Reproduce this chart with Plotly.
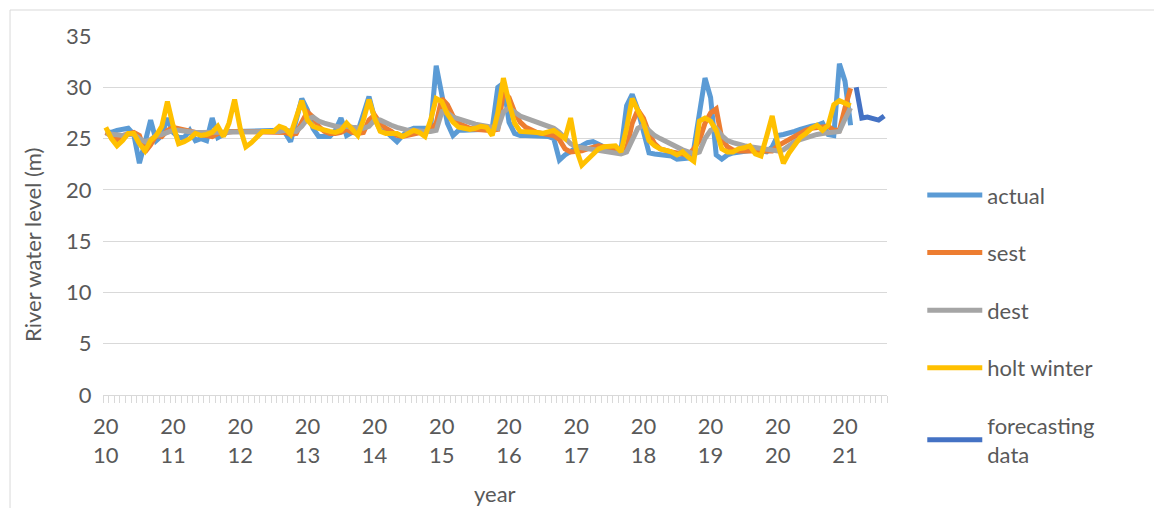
import plotly.graph_objects as go

# ---- data (monthly, Jan 2010 .. Aug 2021) ----
years = ["2010", "2011", "2012", "2013", "2014", "2015", "2016", "2017", "2018", "2019", "2020", "2021"]
n_months = 140

actual = [25.7, 25.6, 25.8, 25.9, 26.0, 25.4, 22.6, 24.6, 26.8, 24.8,
          25.3, 27.0, 25.6, 25.1, 25.1, 25.8, 24.8, 25.0, 24.8, 27.0,
          25.1, 25.4, 25.7, 25.7, 25.7, 25.7, 25.8, 25.8, 25.8, 25.8,
          25.8, 25.8, 25.6, 24.7, 26.8, 28.9, 27.8, 26.0, 25.2, 25.2,
          25.2, 25.8, 27.0, 25.3, 25.6, 25.7, 27.5, 29.1, 27.0, 25.8,
          25.7, 25.2, 24.7, 25.3, 25.8, 26.0, 26.0, 26.0, 26.0, 32.1,
          29.5, 26.5, 25.3, 25.8, 25.8, 25.8, 25.8, 25.8, 25.9, 26.0,
          30.0, 30.4, 26.6, 25.5, 25.3, 25.3, 25.3, 25.3, 25.3, 25.2,
          25.0, 22.9, 23.4, 23.8, 24.1, 24.3, 24.6, 24.7, 24.4, 24.1,
          23.9, 23.8, 23.9, 28.2, 29.3, 27.8, 25.5, 23.6, 23.5, 23.4,
          23.4, 23.3, 23.0, 23.0, 23.1, 24.0, 27.3, 30.9, 29.0, 23.4,
          23.0, 23.4, 23.6, 23.7, 23.7, 23.8, 23.9, 23.8, 23.7, 24.2,
          25.3, 25.4, 25.5, 25.7, 25.9, 26.1, 26.2, 26.3, 26.5, 25.4,
          25.3, 32.3, 30.6, 26.3]

sest = [25.6, 25.2, 24.9, 25.3, 25.5, 25.6, 25.3, 23.7, 24.4, 25.3,
        25.2, 25.8, 26.1, 26.0, 25.8, 25.7, 25.6, 25.4, 25.3, 25.2,
        25.5, 25.6, 25.7, 25.7, 25.7, 25.7, 25.7, 25.7, 25.7, 25.7,
        25.7, 25.7, 25.6, 25.4, 25.5, 26.6, 27.6, 27.1, 26.2, 25.7,
        25.5, 25.5, 25.6, 25.9, 25.6, 25.5, 25.6, 26.8, 27.3, 26.5,
        26.0, 25.7, 25.3, 25.2, 25.3, 25.5, 25.6, 25.7, 25.8, 26.5,
        28.9, 28.3, 27.2, 26.5, 26.2, 26.0, 25.9, 25.8, 25.8, 25.8,
        25.9, 29.5, 29.0, 27.6, 26.6, 26.1, 25.8, 25.6, 25.5, 25.4,
        25.3, 24.9, 24.0, 23.7, 23.7, 23.8, 24.0, 24.2, 24.3, 24.2,
        24.1, 24.0, 23.9, 24.0, 26.5, 27.8, 27.0, 25.5, 24.5, 24.0,
        23.8, 23.7, 23.6, 23.5, 23.4, 24.0, 24.8, 26.5, 27.5, 27.9,
        25.0, 24.2, 23.9, 23.8, 23.8, 23.8, 23.8, 23.8, 23.7, 23.8,
        24.3, 24.6, 25.0, 25.3, 25.5, 25.8, 26.0, 26.1, 26.2, 26.2,
        25.8, 25.8, 28.0, 29.9]

dest = [25.5, 25.4, 25.3, 25.3, 25.4, 25.4, 25.0, 24.7, 24.9, 25.3,
        25.4, 25.6, 25.8, 25.8, 25.7, 25.7, 25.6, 25.6, 25.6, 25.6,
        25.7, 25.7, 25.7, 25.7, 25.7, 25.7, 25.7, 25.7, 25.7, 25.7,
        25.7, 25.7, 25.8, 25.8, 25.7, 26.2, 26.9, 27.1, 26.7, 26.5,
        26.3, 26.2, 26.1, 26.2, 26.1, 26.0, 26.0, 26.2, 26.8, 26.8,
        26.5, 26.3, 26.1, 25.9, 25.8, 25.8, 25.7, 25.7, 25.7, 25.8,
        27.6, 27.5, 27.1, 26.9, 26.7, 26.6, 26.4, 26.3, 26.2, 26.1,
        26.0, 27.6, 28.0, 27.6, 27.2, 27.0, 26.8, 26.6, 26.4, 26.2,
        26.0, 25.6, 25.0, 24.5, 24.2, 24.1, 24.0, 23.9, 23.8, 23.7,
        23.6, 23.5, 23.5, 23.7, 25.0, 26.0, 26.3, 25.8, 25.3, 25.0,
        24.7, 24.5, 24.2, 23.9, 23.7, 23.5, 23.7, 25.0, 25.8, 26.0,
        25.3, 24.8, 24.6, 24.4, 24.3, 24.2, 24.1, 24.0, 23.9, 23.8,
        23.8, 23.9, 24.3, 24.7, 24.9, 25.1, 25.3, 25.4, 25.5, 25.6,
        25.6, 25.7, 26.9, 28.0]

holt_winter = [26.1, 25.0, 24.3, 24.8, 25.5, 25.5, 24.5, 23.8, 24.8, 25.3,
               26.2, 28.6, 26.3, 24.5, 24.7, 25.0, 25.5, 25.3, 25.4, 25.6,
               26.2, 25.2, 26.5, 28.8, 26.0, 24.2, 24.6, 25.2, 25.7, 25.7,
               25.7, 26.2, 26.0, 25.4, 27.0, 28.7, 26.8, 26.2, 26.0, 25.8,
               25.7, 25.6, 25.8, 26.5, 25.9, 25.3, 26.8, 28.8, 27.0, 25.7,
               25.5, 25.5, 25.5, 25.2, 25.5, 25.8, 25.6, 25.2, 26.8, 28.9,
               28.6, 27.4, 26.6, 26.1, 26.0, 25.9, 26.0, 26.2, 26.1, 25.3,
               27.5, 30.9, 28.5, 26.5, 25.7, 25.7, 25.7, 25.6, 25.5, 25.6,
               25.8, 25.4, 25.0, 27.0, 24.0, 22.4, 22.9, 23.5, 24.0, 24.2,
               24.3, 24.3, 23.7, 26.0, 28.9, 27.8, 26.6, 24.8, 24.3, 24.0,
               23.9, 23.7, 23.4, 23.7, 23.2, 22.8, 26.7, 27.0, 26.7, 25.8,
               24.0, 23.7, 23.7, 24.0, 24.1, 24.3, 23.5, 23.3, 25.2, 27.2,
               24.5, 22.6, 23.6, 24.4, 25.1, 25.5, 26.0, 26.3, 25.8, 26.3,
               28.3, 28.7, 28.5, 28.2]

forecast_start = 134
forecasting_data = [30.0, 27.0, 27.1, 27.0, 26.8, 27.2]

# ---- figure ----
TXT = "#595959"
GRID = "#d9d9d9"
FONT = "Lato, Carlito, 'Liberation Sans', sans-serif"

fig = go.Figure()
series = [
    ("actual", actual, 0, "#5B9BD5"),
    ("sest", sest, 0, "#ED7D31"),
    ("dest", dest, 0, "#A5A5A5"),
    ("holt winter", holt_winter, 0, "#FFC000"),
    ("forecasting<br>data", forecasting_data, forecast_start, "#4472C4"),
]
for name, vals, start, color in series:
    fig.add_trace(go.Scatter(
        x=list(range(start, start + len(vals))), y=vals, mode="lines", name=name,
        line=dict(color=color, width=5), legendgroup=name,
    ))

fig.update_layout(
    width=1162, height=508,
    margin=dict(l=95, r=283, t=28, b=121),
    paper_bgcolor="white", plot_bgcolor="white",
    font=dict(family=FONT, size=22, color=TXT),
    showlegend=True,
    legend=dict(x=1.045, y=0.615, xanchor="left", yanchor="top",
                font=dict(size=22, color=TXT), tracegroupgap=26,
                itemwidth=55, bgcolor="rgba(0,0,0,0)"),
    xaxis=dict(
        range=[-0.5, n_months - 0.5], showgrid=False, zeroline=False,
        showline=True, linecolor=GRID, linewidth=1,
        tickmode="array", tickvals=[12 * k for k in range(len(years))],
        ticktext=[y[:2] + "<br>" + y[2:] for y in years],
        ticks="outside", ticklen=12, tickcolor="rgba(0,0,0,0)",
        tickfont=dict(size=22, color=TXT),
        minor=dict(tick0=-0.5, dtick=1, ticks="outside", ticklen=7,
                   tickcolor=GRID, tickwidth=1, showgrid=False),
    ),
    yaxis=dict(
        range=[0, 35], dtick=5, showgrid=True, gridcolor=GRID, gridwidth=1,
        zeroline=False, showline=False,
        ticks="outside", ticklen=6, tickcolor="rgba(0,0,0,0)",
        tickfont=dict(size=22, color=TXT),
    ),
    annotations=[
        dict(text="River water level (m)", textangle=-90, xref="paper", yref="paper",
             x=-0.0893, y=0.418, xanchor="center", yanchor="middle",
             showarrow=False, font=dict(size=22, color=TXT)),
        dict(text="year", xref="paper", yref="paper", x=0.5, y=-0.273,
             xanchor="center", yanchor="middle",
             showarrow=False, font=dict(size=22, color=TXT)),
    ],
    shapes=[
        dict(type="line", xref="paper", yref="paper", x0=-0.1186, x1=1.4,
             y0=1.0724, y1=1.0724, line=dict(color=GRID, width=1)),
        dict(type="line", xref="paper", yref="paper", x0=-0.1186, x1=-0.1186,
             y0=-0.4, y1=1.0724, line=dict(color=GRID, width=1)),
    ],
)

fig.write_html("out.html")
